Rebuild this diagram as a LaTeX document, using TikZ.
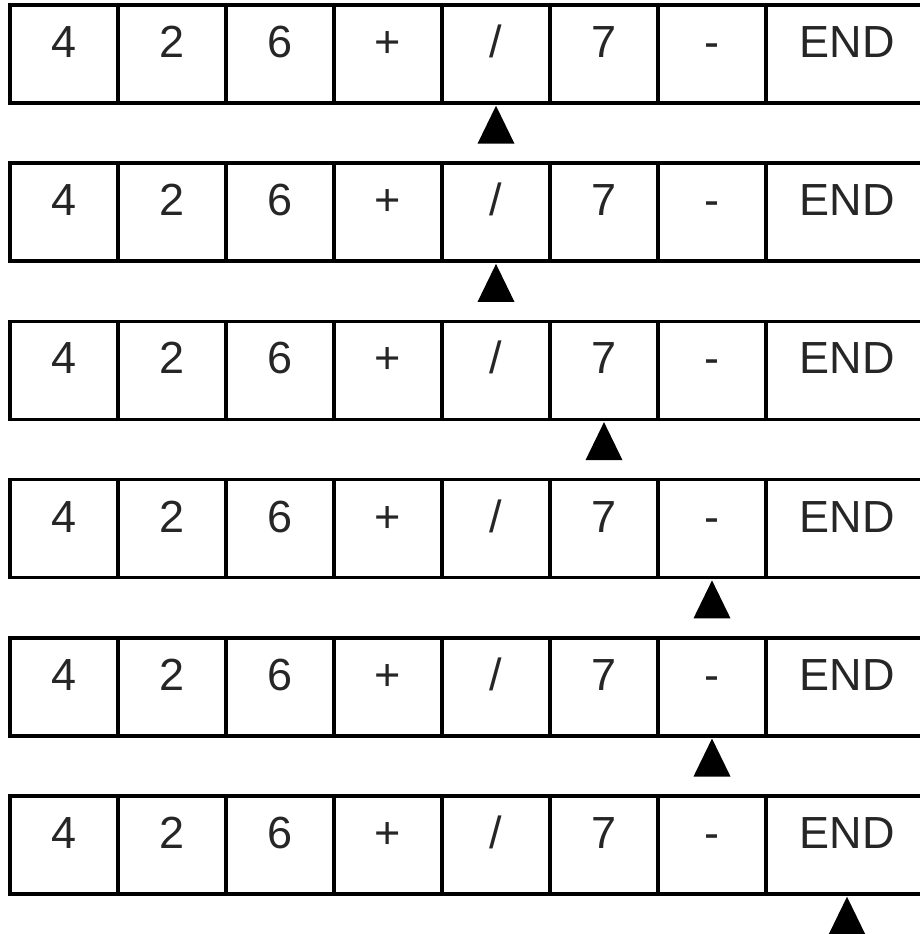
\documentclass[tikz,border=0pt]{standalone}
\usepackage{fontspec}
\setmainfont{Liberation Sans}
\begin{document}
\begin{tikzpicture}[x=1pt,y=1pt,
  cell/.style={draw=black, line width=3.5pt, minimum width=108pt, minimum height=98pt,
    inner sep=0pt, text height=0.716em, text depth=0pt,
    font=\fontsize{45}{50}\selectfont, text=black!85},
  endcell/.style={cell, minimum width=162pt},
  pointer/.style={fill=black}]
\useasboundingbox (0,0) rectangle (920,934);
\foreach \i/\p in {1/5,2/5,3/6,4/7,5/7,6/8} {
  \pgfmathsetmacro{\yc}{934-54-158.2*(\i-1)}
  \foreach \t [count=\j] in {4,2,6,+,/,7,-} {
    \node[cell] (r\i c\j) at ({64+108*(\j-1)},\yc) {\t};
  }
  \node[endcell] (r\i c8) at (847,\yc) {END};
  \coordinate (tip\i) at ([yshift=-1pt]r\i c\p.south);
  \fill[pointer] (tip\i) -- ++(18.5,-38) -- ++(-37,0) -- cycle;
}
\end{tikzpicture}
\end{document}
